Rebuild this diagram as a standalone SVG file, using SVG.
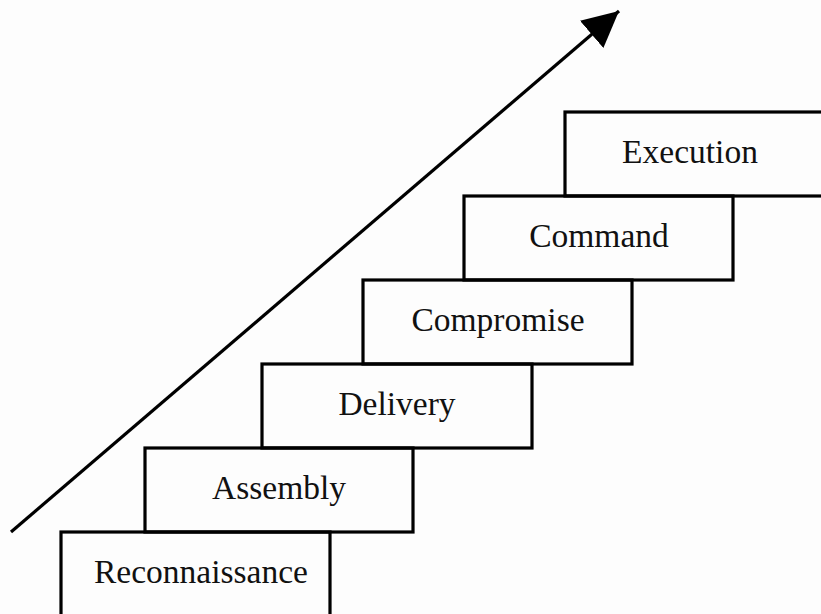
<svg xmlns="http://www.w3.org/2000/svg" width="821" height="614" viewBox="0 0 821 614">
<defs>
<style>
.box{fill:none;stroke:#000;stroke-width:3.2}
.lbl{font-family:"Liberation Serif","Times New Roman",serif;font-size:33.5px;fill:#111;text-anchor:middle}
.conn{stroke:#000;stroke-width:3.2;fill:none}
</style>
<marker id="ah" markerUnits="userSpaceOnUse" markerWidth="40" markerHeight="40" refX="36" refY="18" orient="auto">
<path d="M0,0 L36,18 L0,36 Z" fill="#000"/>
</marker>
</defs>
<rect width="821" height="614" fill="#fdfdfd"/>
<g id="connectors">
<line class="conn" x1="11" y1="532" x2="619" y2="11" marker-end="url(#ah)"/>
</g>
<g id="reconnaissance">
<rect class="box" x="61" y="532" width="269" height="100"/>
<text class="lbl" x="201" y="583">Reconnaissance</text>
</g>
<g id="assembly">
<rect class="box" x="145" y="448" width="268" height="84"/>
<text class="lbl" x="279" y="499">Assembly</text>
</g>
<g id="delivery">
<rect class="box" x="262" y="364" width="270" height="84"/>
<text class="lbl" x="397" y="415">Delivery</text>
</g>
<g id="compromise">
<rect class="box" x="363" y="280" width="269" height="84"/>
<text class="lbl" x="498" y="331">Compromise</text>
</g>
<g id="command">
<rect class="box" x="464" y="196" width="269" height="84"/>
<text class="lbl" x="599" y="247">Command</text>
</g>
<g id="execution">
<rect class="box" x="565" y="112" width="269" height="84"/>
<text class="lbl" x="690" y="163">Execution</text>
</g>
</svg>
